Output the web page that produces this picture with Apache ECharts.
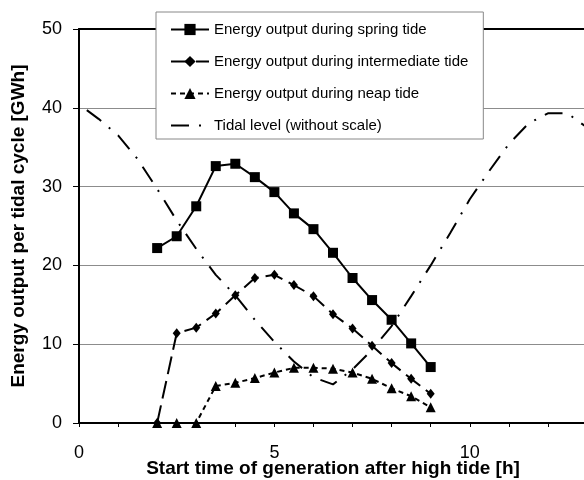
<!DOCTYPE html>
<html>
<head>
<meta charset="utf-8">
<script src="https://cdn.jsdelivr.net/npm/echarts@6/dist/echarts.min.js"></script>
<style>
  html, body { margin: 0; padding: 0; background: #fff; }
  #main { width: 584px; height: 480px; }
</style>
</head>
<body>
<div id="main"></div>
<script>
// start time of generation after high tide [h]
var hours = [2, 2.5, 3, 3.5, 4, 4.5, 5, 5.5, 6, 6.5, 7, 7.5, 8, 8.5, 9];
var springTide = [22.2, 23.7, 27.5, 32.6, 32.9, 31.2, 29.3, 26.6, 24.6, 21.6, 18.4, 15.6, 13.1, 10.1, 7.1];
var intermediateTide = [0, 11.4, 12.1, 13.9, 16.2, 18.4, 18.8, 17.5, 16.1, 13.8, 12.0, 9.8, 7.6, 5.6, 3.7];
var neapTide = [0, 0, 0, 4.7, 5.1, 5.7, 6.4, 7.0, 7.0, 6.9, 6.4, 5.6, 4.4, 3.4, 2.0];

// tidal level, drawn on the same scale (no own axis)
var tideHours = [0.2, 0.5, 1, 1.5, 2, 2.5, 3, 3.5, 4, 4.5, 5, 5.5, 6, 6.5, 7, 7.5, 8, 8.5, 9, 9.5, 10, 10.5, 11, 11.5, 12, 12.5, 13];
var tideLevel = [39.7, 38.6, 36.5, 33.5, 29.7, 25.7, 22.1, 18.8, 16.2, 13.1, 10.3, 7.8, 5.8, 4.9, 6.8, 9.3, 12.3, 16.1, 20.0, 24.1, 28.4, 32.0, 35.4, 38.0, 39.3, 39.3, 37.5];

var seriesNames = [
    'Energy output during spring tide',
    'Energy output during intermediate tide',
    'Energy output during neap tide',
    'Tidal level (without scale)'
];

function pairs(xs, ys) {
    return xs.map(function (x, i) { return [x, ys[i]]; });
}

var font = 'Liberation Sans, Arial, sans-serif';
var myChart = echarts.init(document.getElementById('main'));

var option = {
    animation: false,
    backgroundColor: '#fff',
    grid: {
        left: 79,
        right: -3,
        top: 29,
        bottom: 57,
        outerBoundsMode: 'none',
        containLabel: false
    },
    legend: {
        orient: 'vertical',
        left: 156,
        top: 12,
        backgroundColor: '#fff',
        borderColor: '#888',
        borderWidth: 1,
        borderRadius: 0,
        padding: [10, 15, 6, 14],
        itemWidth: 38,
        itemHeight: 14,
        itemGap: 17,
        textStyle: {
            fontFamily: font,
            fontSize: 15,
            color: '#000'
        },
        data: [
            seriesNames[0],
            seriesNames[1],
            seriesNames[2],
            { name: seriesNames[3], itemStyle: { opacity: 0 } }
        ]
    },
    xAxis: [{
        type: 'value',
        min: 0,
        max: 13,
        interval: 1,
        name: 'Start time of generation after high tide [h]',
        nameLocation: 'middle',
        nameGap: 36,
        nameMoveOverlap: false,
        nameTextStyle: {
            fontFamily: font,
            fontSize: 19,
            fontWeight: 'bold',
            color: '#000'
        },
        axisLine: { lineStyle: { color: '#000', width: 2 } },
        axisTick: { show: true, length: 4, lineStyle: { color: '#000', width: 1 } },
        axisLabel: {
            margin: 21,
            fontFamily: font,
            fontSize: 18,
            color: '#000',
            formatter: function (v) {
                return v % 5 === 0 ? String(v) : '';
            }
        },
        splitLine: { show: false }
    }, {
        // top frame line at 50
        type: 'value',
        position: 'top',
        min: 0,
        max: 13,
        axisLine: { show: true, onZero: false, lineStyle: { color: '#000', width: 2 } },
        axisTick: { show: false },
        axisLabel: { show: false },
        splitLine: { show: false }
    }],
    yAxis: {
        type: 'value',
        min: 0,
        max: 50,
        interval: 10,
        name: 'Energy output per tidal cycle [GWh]',
        nameLocation: 'middle',
        nameGap: 51,
        nameMoveOverlap: false,
        nameTextStyle: {
            fontFamily: font,
            fontSize: 19,
            fontWeight: 'bold',
            color: '#000'
        },
        axisLine: { show: true, lineStyle: { color: '#000', width: 2 } },
        axisTick: { show: true, length: 6, lineStyle: { color: '#000', width: 1 } },
        axisLabel: {
            margin: 17,
            fontFamily: font,
            fontSize: 18,
            color: '#000'
        },
        splitLine: { show: true, lineStyle: { color: '#8c8c8c', width: 1 } }
    },
    series: [{
        name: seriesNames[0],
        type: 'line',
        data: pairs(hours, springTide),
        symbol: 'rect',
        symbolSize: 10,
        itemStyle: { color: '#000' },
        lineStyle: { color: '#000', width: 2, type: 'solid' },
        z: 5
    }, {
        name: seriesNames[1],
        type: 'line',
        data: pairs(hours, intermediateTide),
        symbol: 'diamond',
        symbolSize: [8, 10],
        itemStyle: { color: '#000' },
        lineStyle: { color: '#000', width: 2, type: [18, 7] },
        z: 4
    }, {
        name: seriesNames[2],
        type: 'line',
        data: pairs(hours, neapTide),
        symbol: 'triangle',
        symbolSize: 10,
        itemStyle: { color: '#000' },
        lineStyle: { color: '#000', width: 2, type: [5, 4] },
        z: 4
    }, {
        name: seriesNames[3],
        type: 'line',
        data: pairs(tideHours, tideLevel),
        symbol: 'none',
        itemStyle: { color: '#000' },
        lineStyle: { color: '#000', width: 2, type: [18, 10, 2, 10] },
        z: 3
    }]
};

myChart.setOption(option);
</script>
</body>
</html>
